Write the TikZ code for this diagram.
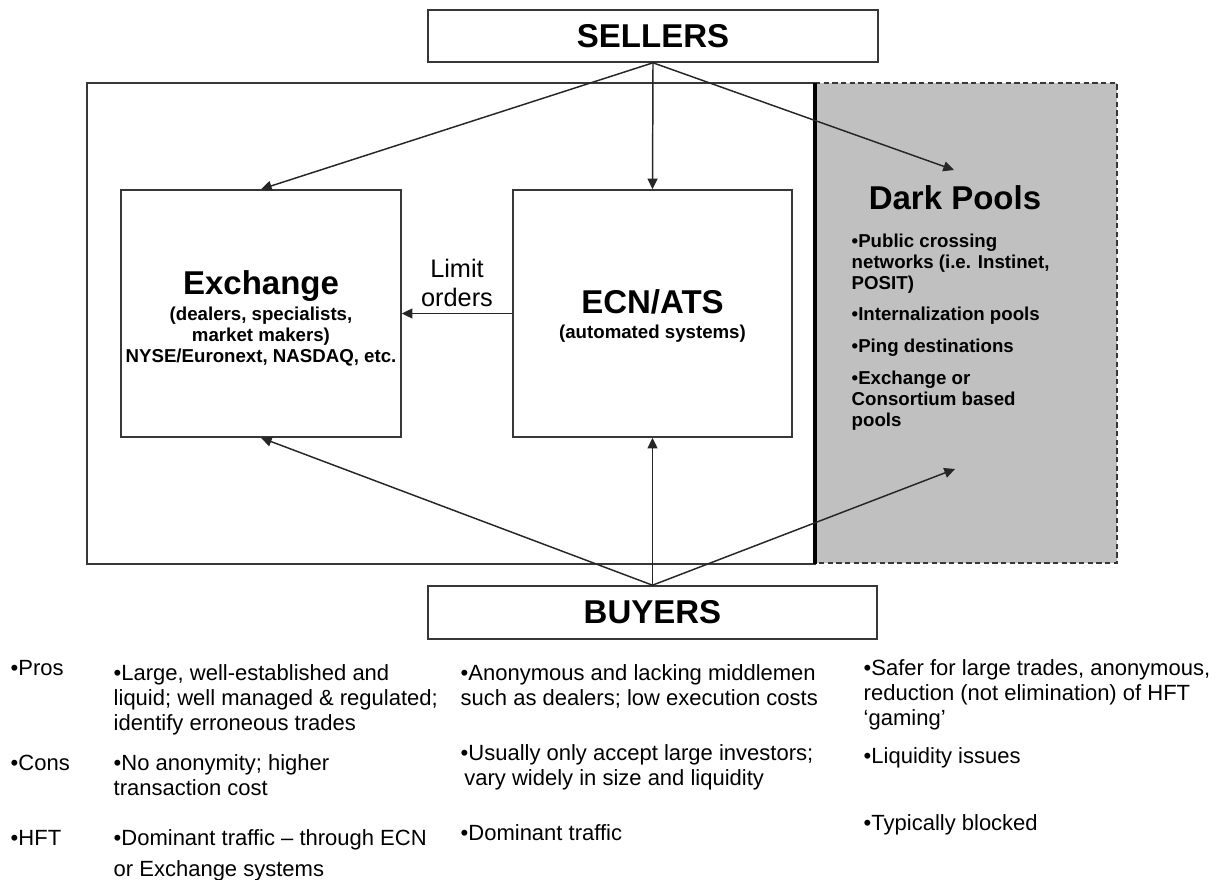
\documentclass[tikz,border=0pt]{standalone}
\usepackage{fontspec}
\setmainfont{Liberation Sans}
\usetikzlibrary{arrows.meta}

\definecolor{poolgray}{RGB}{192,192,192}
\definecolor{edgegray}{RGB}{55,55,55}

\newcommand{\boxtitle}{\fontsize{24.75pt}{29pt}\selectfont\bfseries}
\newcommand{\boxsub}{\fontsize{14pt}{15.75pt}\selectfont\bfseries}
\newcommand{\limitfont}{\fontsize{19pt}{21.75pt}\selectfont}
\newcommand{\notetext}{\fontsize{16.5pt}{18.75pt}\selectfont}

\tikzset{every picture/.style={line width=1.1pt}}
\tikzset{
  plainbox/.style={draw=edgegray, fill=white, line width=1.2pt, inner sep=0pt},
  flow/.style={draw=black!85, line width=1.1pt, -{Triangle[length=8pt,width=7.5pt]}},
  note/.style={anchor=north west, inner sep=0pt, align=left, font=\notetext},
}

\begin{document}
\begin{tikzpicture}[x=0.75pt,y=0.75pt,yscale=-1,xscale=1]
\useasboundingbox (0,0) rectangle (1226,880);

%Shape: Rectangle [market frame]
\draw [draw=edgegray, line width=1.2pt] (87,83) rectangle (815,564);
%Shape: Rectangle [dark pool area]
\fill [poolgray] (815,83) rectangle (1117,563);
\draw [draw=edgegray, line width=1pt, dash pattern=on 4pt off 2.5pt] (815,83) -- (1117,83) -- (1117,563) -- (815,563);
%Straight Lines [divider]
\draw [line width=3pt] (815,83) -- (815,564);

%Shape: Boxes
\draw (653,36) node (sellers) [plainbox, minimum width=337.5pt, minimum height=39pt] {\boxtitle SELLERS};
\draw (652.5,612.5) node (buyers) [plainbox, minimum width=336.75pt, minimum height=39.75pt] {\boxtitle BUYERS};
\draw (261,313.5) node (exch) [plainbox, minimum width=210pt, minimum height=185.25pt] {};
\draw (652.5,313.5) node (ecn) [plainbox, minimum width=209.25pt, minimum height=185.25pt] {};

% arrow ends inside the dark pool area
\coordinate (pooltop) at (954,170);
\coordinate (poolbot) at (955,469);

%Straight Lines [arrows]
\draw [flow] (sellers.south) -- (exch.north);
\draw [flow] (sellers.south) -- (ecn.north);
\draw [flow] (sellers.south) -- (pooltop);
\draw [flow] (ecn.west) -- (exch.east);
\draw [flow] (buyers.north) -- (exch.south);
\draw [flow] (buyers.north) -- (ecn.south);
\draw [flow] (buyers.north) -- (poolbot);

% Text Node
\draw (261,286) node (exchtitle) [inner sep=0pt] {\boxtitle Exchange};
% Text Node
\draw (261,337) node (exchsub) [inner sep=0pt, align=center, font=\boxsub] {(dealers, specialists,\\ market makers)\\ NYSE/Euronext, NASDAQ, etc.};
% Text Node
\draw (652.5,302) node (ecntitle) [inner sep=0pt] {\boxtitle ECN/ATS};
% Text Node
\draw (652.5,334) node (ecnsub) [inner sep=0pt, font=\boxsub] {(automated systems)};
% Text Node
\draw (457,283) node (limit) [inner sep=0pt, align=center, font=\limitfont] {Limit\\ orders};
% Text Node
\draw (955,198) node (pooltitle) [inner sep=0pt] {\boxtitle Dark Pools};
% Text Node
\draw (851,233) node (poollist) [inner sep=0pt, anchor=north west, align=left, font=\boxsub] {%
  •Public crossing\\ networks (i.e. Instinet,\\ POSIT)\\[8pt]
  •Internalization pools\\[8pt]
  •Ping destinations\\[8pt]
  •Exchange or\\ Consortium based\\ pools};

% Text Node [row labels]
\draw (10,660) node (pros) [note] {•Pros};
\draw (10,754) node (cons) [note] {•Cons};
\draw (10,830) node (hft) [note] {•HFT};
% Text Node [exchange column]
\draw (113,664) node (exchpros) [note] {•Large, well-established and\\ liquid; well managed \& regulated;\\ identify erroneous trades};
\draw (113,754) node (exchcons) [note] {•No anonymity; higher\\ transaction cost};
\draw (113,829) node (exchhft) [note] {•Dominant traffic – through ECN\\[4.5pt] or Exchange systems};
% Text Node [ecn column]
\draw (460,664) node (ecnpros) [note] {•Anonymous and lacking middlemen\\ such as dealers; low execution costs};
\draw (460,744) node (ecncons) [note] {•Usually only accept large investors;\\ \,vary widely in size and liquidity};
\draw (460,824) node (ecnhft) [note] {•Dominant traffic};
% Text Node [dark pool column]
\draw (863,659) node (poolpros) [note] {•Safer for large trades, anonymous,\\ reduction (not elimination) of HFT\\ ‘gaming’};
\draw (863,747) node (poolcons) [note] {•Liquidity issues};
\draw (863,814) node (poolhft) [note] {•Typically blocked};

\end{tikzpicture}
\end{document}
